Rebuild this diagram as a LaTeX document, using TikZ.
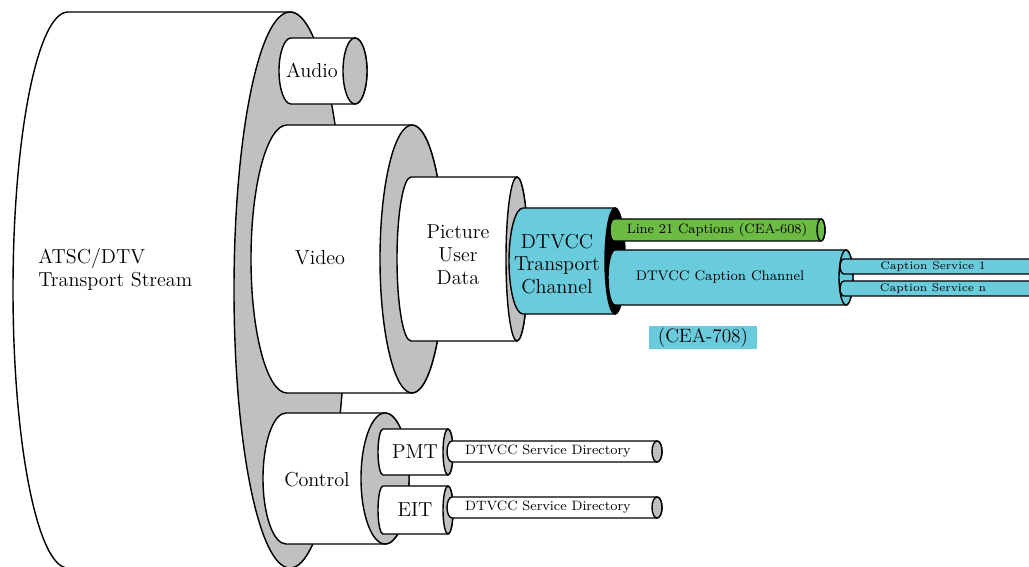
\documentclass[tikz,border=0pt]{standalone}
\usepackage{amsmath}
\definecolor{capgray}{RGB}{192,192,192}
\definecolor{cccyan}{RGB}{106,203,220}
\definecolor{ccgreen}{RGB}{108,187,66}
\tikzset{
  tube/.style={draw,thick,fill=white},
  tubeend/.style={draw,thick,fill=capgray},
  biglabel/.style={font=\fontsize{11.5}{13}\selectfont,align=center,inner sep=0pt},
  smalllabel/.style={font=\fontsize{7.7}{9}\selectfont,inner sep=0pt}
}

\begin{document}
\begin{tikzpicture}[x=0.02cm,y=-0.02cm]
            \useasboundingbox (0,0) rectangle (1029,567);
            % transport stream
            \draw[tube] (290,12)--(68,12) arc[start angle=270,end angle=90,x radius=55,y radius=278]--(290,568) arc[start angle=90,end angle=-90,x radius=55,y radius=278]--cycle;
            \draw[tubeend] (290,290) ellipse[x radius=56,y radius=278];
            \node[biglabel,align=left,anchor=west] (atsc) at (38,269) {ATSC/DTV\\Transport Stream};
            % audio, video, control
            \draw[tube] (355,38)--(291,38) arc[start angle=270,end angle=90,x radius=12,y radius=33]--(355,104) arc[start angle=90,end angle=-90,x radius=12,y radius=33]--cycle;
            \draw[tubeend] (355,71) ellipse[x radius=12,y radius=33];
            \node[biglabel] (audio) at (312,70) {Audio};
            \draw[tube] (412,125)--(287,125) arc[start angle=270,end angle=90,x radius=36,y radius=134]--(412,393) arc[start angle=90,end angle=-90,x radius=32,y radius=134]--cycle;
            \draw[tubeend] (412,259) ellipse[x radius=32,y radius=134];
            \node[biglabel] (video) at (320,258) {Video};
            \draw[tube] (385,413)--(286,413) arc[start angle=270,end angle=90,x radius=23,y radius=65.5]--(385,544) arc[start angle=90,end angle=-90,x radius=24,y radius=65.5]--cycle;
            \draw[tubeend] (385,478.5) ellipse[x radius=24,y radius=65.5];
            \node[biglabel] (control) at (317,480) {Control};
            % picture user data
            \draw[tube] (517,177)--(411,177) arc[start angle=270,end angle=90,x radius=14,y radius=82]--(517,341) arc[start angle=90,end angle=-90,x radius=11,y radius=82]--cycle;
            \draw[tubeend] (517,259) ellipse[x radius=11,y radius=82];
            \node[biglabel] (pud) at (458,255) {Picture\\User\\Data};
            % pmt and eit
            \foreach \cy/\r/\txt in {452/23/PMT,510/24/EIT}{
              \draw[tube] (448,\cy-\r)--(383,\cy-\r) arc[start angle=270,end angle=90,x radius=5,y radius=\r]--(448,\cy+\r) arc[start angle=90,end angle=-90,x radius=5,y radius=\r]--cycle;
              \draw[tubeend] (448,\cy) ellipse[x radius=5,y radius=\r];
              \node[biglabel] (\txt) at (415,\cy) {\txt};
            }
            % service directory
            \foreach \cy/\nm in {451.5/dirpmt,507.5/direit}{
              \draw[tube] (657,\cy-10.5)--(452,\cy-10.5) arc[start angle=270,end angle=90,x radius=5,y radius=10.5]--(657,\cy+10.5) arc[start angle=90,end angle=-90,x radius=5,y radius=10.5]--cycle;
              \draw[tubeend] (657,\cy) ellipse[x radius=5,y radius=10.5];
              \node[smalllabel] (\nm) at (548,\cy) {DTVCC Service Directory};
            }
            % transport channel
            \draw[tube,fill=cccyan] (615,208)--(523,208) arc[start angle=270,end angle=90,x radius=14,y radius=53]--(615,314) arc[start angle=90,end angle=-90,x radius=10,y radius=53]--cycle;
            \draw[thick,fill=black] (615,261) ellipse[x radius=10,y radius=53];
            \node[biglabel] (dtvcc) at (557,264) {DTVCC\\Transport\\Channel};
            % line 21 and caption channel
            \draw[tube,fill=ccgreen] (821,219)--(614,219) arc[start angle=270,end angle=90,x radius=4,y radius=11]--(821,241) arc[start angle=90,end angle=-90,x radius=4,y radius=11]--cycle;
            \draw[tube,fill=ccgreen] (821,230) ellipse[x radius=4,y radius=11];
            \node[smalllabel] (line21) at (717,230) {Line 21 Captions (CEA-608)};
            \draw[tube,fill=cccyan] (846,250)--(615,250) arc[start angle=270,end angle=90,x radius=7,y radius=27.5]--(846,305) arc[start angle=90,end angle=-90,x radius=7,y radius=27.5]--cycle;
            \draw[tube,fill=cccyan] (846,277.5) ellipse[x radius=7,y radius=27.5];
            \node[smalllabel,font=\fontsize{7.9}{10}\selectfont] (channel) at (720,277) {DTVCC Caption Channel};
            \node[fill=cccyan,minimum width=2.16cm,minimum height=0.46cm,inner sep=0pt,font=\fontsize{11}{13}\selectfont] (cea) at (703,337.5) {(CEA-708)};
            % caption services
            \foreach \cy/\nm/\txt in {266.5/serviceone/Caption Service 1,288.5/servicen/Caption Service n}{
              \draw[tube,fill=cccyan] (1034,\cy-7.5)--(844,\cy-7.5) arc[start angle=270,end angle=90,x radius=4,y radius=7.5]--(1034,\cy+7.5) arc[start angle=90,end angle=-90,x radius=4,y radius=7.5]--cycle;
              \draw[tube,fill=cccyan] (1034,\cy) ellipse[x radius=4,y radius=7.5];
              \node[smalllabel,font=\fontsize{6.3}{8}\selectfont] (\nm) at (933,\cy) {\txt};
            }
        \end{tikzpicture}
\end{document}
